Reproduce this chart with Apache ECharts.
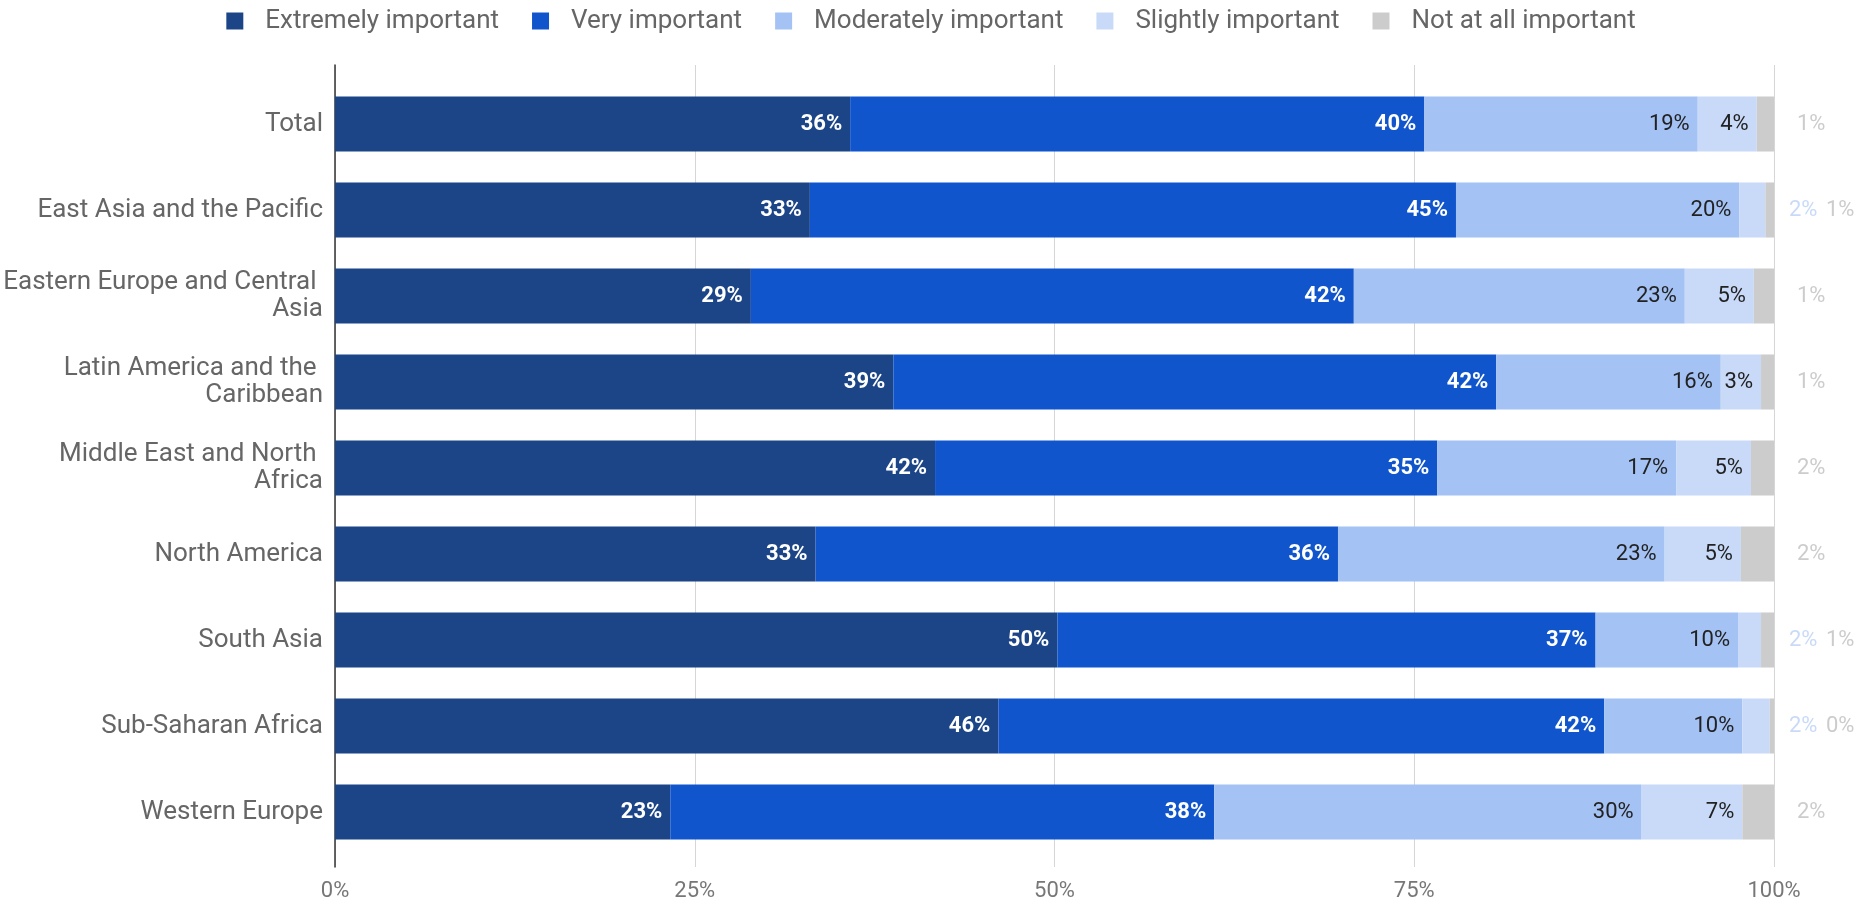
<!DOCTYPE html>
<html>
<head>
<meta charset="utf-8">
<style>
  html, body { margin: 0; padding: 0; background: #ffffff; }
  #chart { width: 1862px; height: 908px; }
</style>
<script src="https://cdn.jsdelivr.net/npm/echarts@6/dist/echarts.min.js"></script>
</head>
<body>
<div id="chart"></div>
<script>
// Importance ratings by region, shares of respondents (%)
const categories = [
  'Total',
  'East Asia and the Pacific',
  'Eastern Europe and Central Asia',
  'Latin America and the Caribbean',
  'Middle East and North Africa',
  'North America',
  'South Asia',
  'Sub-Saharan Africa',
  'Western Europe'
];
const seriesNames = ['Extremely important', 'Very important', 'Moderately important', 'Slightly important', 'Not at all important'];
const extremely  = [35.8, 33.0, 28.9, 38.8, 41.7, 33.4, 50.2, 46.1, 23.3];
const very       = [39.9, 44.9, 41.9, 41.9, 34.9, 36.3, 37.4, 42.1, 37.8];
const moderately = [19.0, 19.7, 23.0, 15.6, 16.6, 22.7,  9.9,  9.6, 29.7];
const slightly   = [ 4.1,  1.8,  4.8,  2.8,  5.2,  5.3,  1.6,  1.9,  7.0];
const notAtAll   = [ 1.2,  0.6,  1.4,  0.9,  1.6,  2.3,  0.9,  0.3,  2.2];
const xTicks = [0, 25, 50, 75, 100];

const colors = ['#1c4587', '#1155cc', '#a4c2f4', '#c9daf8', '#cccccc'];
const FONT = 'Roboto, "Noto Sans", sans-serif';

const chart = echarts.init(document.getElementById('chart'), null, { renderer: 'canvas' });

const GRID_LEFT = 335, GRID_RIGHT = 88;
const pxPerUnit = (chart.getWidth() - GRID_LEFT - GRID_RIGHT) / 100;
const SMALL = 2.5; // segments narrower than this get their label outside the bar

const pct = p => Math.round(p.value) + '%';

function insideLabel(color, weight) {
  return {
    show: true, position: 'insideRight', distance: 8,
    formatter: pct, color: color, fontFamily: FONT, fontSize: 22, fontWeight: weight
  };
}

const slightData = slightly.map((v, i) => v < SMALL ? {
  value: v,
  label: { position: 'right', distance: 15 + notAtAll[i] * pxPerUnit, color: colors[3], fontWeight: 'normal' }
} : v);

const notData = notAtAll.map((v, i) => ({
  value: v,
  label: { position: 'right', distance: slightly[i] < SMALL ? 52 : 23 }
}));

function bar(idx, data, label) {
  return {
    name: seriesNames[idx], type: 'bar', stack: 'all',
    xAxisIndex: 0, yAxisIndex: 0,
    data: data, barCategoryGap: '36%',
    itemStyle: { color: colors[idx] },
    label: label
  };
}

chart.setOption({
  animation: false,
  color: colors,
  legend: {
    top: 3, left: 'center',
    icon: 'rect', itemWidth: 17, itemHeight: 17, itemGap: 33,
    textStyle: { fontFamily: FONT, fontSize: 26, color: '#666666', padding: [0, 0, 0, 17], lineHeight: 26 },
    data: seriesNames
  },
  grid: [
    { left: GRID_LEFT, right: GRID_RIGHT, top: 81, bottom: 53, containLabel: false, outerBoundsMode: 'none' },
    { left: GRID_LEFT, right: GRID_RIGHT, top: 65, bottom: 41, containLabel: false, outerBoundsMode: 'none' }
  ],
  xAxis: [
    { gridIndex: 0, type: 'value', min: 0, max: 100, show: false },
    {
      gridIndex: 1, type: 'value', min: xTicks[0], max: xTicks[xTicks.length - 1], interval: 25,
      axisLine: { show: false }, axisTick: { show: false },
      axisLabel: { formatter: '{value}%', fontFamily: FONT, fontSize: 22, color: '#777777', margin: 13 },
      splitLine: { show: true, lineStyle: { color: '#d6d6d6', width: 1 } }
    }
  ],
  yAxis: [
    {
      gridIndex: 0, type: 'category', data: categories, inverse: true,
      axisLine: { show: false }, axisTick: { show: false },
      axisLabel: {
        fontFamily: FONT, fontSize: 26, color: '#666666', margin: 12,
        width: 330, overflow: 'break', lineHeight: 27, align: 'right'
      }
    },
    {
      gridIndex: 1, type: 'value', min: 0, max: 1,
      axisLabel: { show: false }, axisTick: { show: false }, splitLine: { show: false },
      axisLine: { show: true, lineStyle: { color: '#333333', width: 1.5 } }
    }
  ],
  series: [
    bar(0, extremely, insideLabel('#ffffff', 'bold')),
    bar(1, very, insideLabel('#ffffff', 'bold')),
    bar(2, moderately, insideLabel('#222222', 'normal')),
    bar(3, slightData, insideLabel('#222222', 'normal')),
    bar(4, notData, {
      show: true, position: 'right', formatter: pct,
      color: colors[4], fontFamily: FONT, fontSize: 22
    })
  ]
});
</script>
</body>
</html>
